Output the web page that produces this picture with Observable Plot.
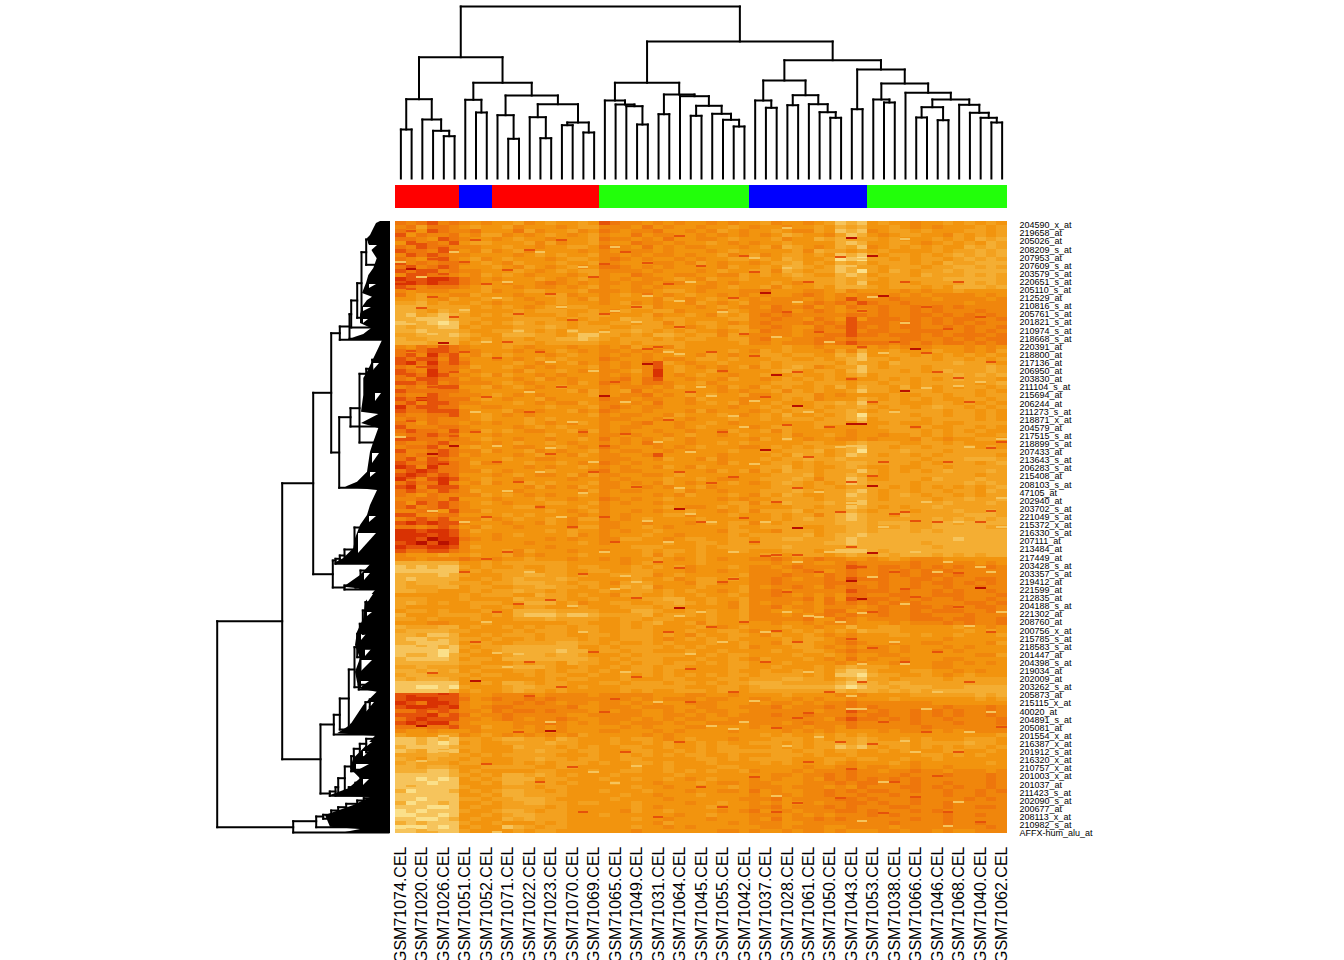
<!DOCTYPE html>
<html>
<head>
<meta charset="utf-8">
<script src="https://cdn.jsdelivr.net/npm/d3@7"></script>
<script src="https://cdn.jsdelivr.net/npm/@observablehq/plot@0.6"></script>
<style>html,body{margin:0;background:#fff}svg{display:block}</style>
</head>
<body>
<div id="chart"></div>
<script>
const sampleLabels = ["GSM71074.CEL","GSM71020.CEL","GSM71026.CEL","GSM71051.CEL","GSM71052.CEL","GSM71071.CEL","GSM71022.CEL","GSM71023.CEL","GSM71070.CEL","GSM71069.CEL","GSM71065.CEL","GSM71049.CEL","GSM71031.CEL","GSM71064.CEL","GSM71045.CEL","GSM71055.CEL","GSM71042.CEL","GSM71037.CEL","GSM71028.CEL","GSM71061.CEL","GSM71050.CEL","GSM71043.CEL","GSM71053.CEL","GSM71038.CEL","GSM71066.CEL","GSM71046.CEL","GSM71068.CEL","GSM71040.CEL","GSM71062.CEL"];
const probeLabels = ["204590_x_at","219658_at","205026_at","208209_s_at","207953_at","207609_s_at","203579_s_at","220651_s_at","205110_s_at","212529_at","210816_s_at","205761_s_at","201821_s_at","210974_s_at","218668_s_at","220391_at","218800_at","217136_at","206950_at","203830_at","211104_s_at","215694_at","206244_at","211273_s_at","218871_x_at","204579_at","217515_s_at","218899_s_at","207433_at","213643_s_at","206283_s_at","215408_at","208103_s_at","47105_at","202940_at","203702_s_at","221049_s_at","215372_x_at","216330_s_at","207111_at","213484_at","217449_at","203428_s_at","203357_s_at","219412_at","221599_at","212835_at","204188_s_at","221302_at","208760_at","200756_x_at","215785_s_at","218583_s_at","201447_at","204398_s_at","219034_at","202009_at","203262_s_at","205873_at","215115_x_at","40020_at","204891_s_at","205081_at","201554_x_at","216387_x_at","201912_s_at","216320_x_at","210757_x_at","201003_x_at","201037_at","211423_s_at","202090_s_at","200677_at","208113_x_at","210982_s_at","AFFX-hum_alu_at"];
const classNames = ["red","blue","red","green","blue","green"];
const classSizes = [6,3,10,14,11,13];
const classColors = {red:"#ff0000",blue:"#0000ff",green:"#22ff0a"};
const levelColors = ["#b81000","#d93203","#e5520a","#ee760c","#f0860c","#f2940e","#f3a11f","#f4ae33","#f6c45c","#fbe08a"];

// expression level per probe band (rows) and sample (columns), 0 = high ... 9 = low
const heatRows = [
"343243 454 5564565565 23445454554545 56455456878 5655455656565",
"436334 565 5645554566 44453545545565 45545565767 5565454555656",
"345234 435 5536455645 34544355454654 55654465878 4566565556656",
"253443 546 6454565456 45535445545454 54576554687 5456655465656",
"334523 455 4565545556 34454535544565 55645576766 6565556565767",
"524342 566 5556464556 45534454556545 45565555787 5566545656576",
"342334 445 5655455665 34453545445554 56476545768 4565656557676",
"233423 546 4564555545 45444545554565 55556476656 5655556566767",
"423234 455 5545656556 44545445455645 64566565878 6566565676767",
"345324 564 5655545665 43454554545566 56576556989 6656566567676",
"243433 456 5465556556 44555445465455 45667565767 5666565766777",
"324323 555 6546545645 33454545555465 56577656876 6566656677676",
"232243 445 5565456566 44445455545655 66476566879 6576566767777",
"422334 546 5654555456 45534554455446 56567655787 5666576667676",
"122112 345 4555654565 45454456546556 55556666767 6566666777776",
"112122 345 5455434545 44544544554545 55654566768 5566566667676",
"234333 456 5545445456 45545455544565 56465565777 6566656577767",
"454445 556 4556655564 44544566545554 43555445645 5554545565555",
"356554 465 5545566455 45653545655454 54554345454 4545454444545",
"556546 556 5654556546 45555465456565 45444545424 4434445444454",
"667565 565 4555456555 45645455465456 44445434342 3443444445444",
"777666 656 5654565665 55566455545654 45344354534 4344343434444",
"776576 755 5565666556 54655664555465 44345434545 4344343444344",
"786787 656 5665556566 65556455654656 43434444433 4344334343434",
"778887 665 5566665656 55766566555566 44344534525 3334343433443",
"877898 656 5676566565 56656646566545 43444343423 3343343434344",
"767788 565 5566676566 65566656456566 44345534323 4343344343443",
"778777 655 6676565766 56676565655456 53445434424 3344333443434",
"667778 765 5777665688 66565776566465 44445443323 3433343433343",
"766777 656 5665667787 65666565665566 43554433434 4443344343433",
"777677 565 5666566666 55656666555556 44544434323 3343434334343",
"453423 455 5654555455 45465546555555 55565545554 5454445554545",
"343223 445 5545456545 44545465555565 46565554647 5565556554546",
"324132 546 5655545655 45454556546545 56656655768 5566565656565",
"232242 455 4545656555 34554544566565 55665565678 6656665665656",
"213132 355 5565455645 45453265455655 56566666576 6576666676665",
"344233 465 5654545556 45454256545456 46567645668 6566656666676",
"234133 545 5546556545 44564156556455 55676566578 6665656766676",
"323124 456 4655454555 45454154565545 56556556567 5666666676767",
"342233 545 5545645455 44353255455465 54565656545 5656565676665",
"223243 444 5654555465 34453345564555 55666566656 6566566666567",
"434322 556 4565456555 45444546555465 46565565757 6657565656656",
"233333 455 5554555646 45635455555454 55646565568 6656665666565",
"344234 445 6545455556 45443545656556 44566645455 5565566566566",
"231233 356 5455645555 34454455465554 45565645557 6565656556656",
"324223 445 5565454465 44545355456564 55655566768 5665556656565",
"132233 554 4555565556 43454455555545 56566565667 6566567665656",
"233222 455 5645455645 34554555464555 45656656676 5656666566565",
"344332 456 5454555556 45445546555654 56575565679 6666566566565",
"434344 456 5556565555 44455465455565 56566656678 5666656666565",
"345344 545 4556545465 45543554556545 55555566657 5565556556666",
"244433 455 5545656555 45445554565555 45665565555 5666565566565",
"323342 446 5654455646 45455455455465 56465555545 5566656565655",
"433233 555 4555565545 44545545655456 55564556545 5455656566556",
"223343 456 5545545565 35454565455555 46565455445 4555465455665",
"344324 445 4565565455 45453455455656 55555665567 6665566565555",
"433243 565 5544556545 34555454565554 45656566678 6656656666565",
"244323 446 4556454556 45445545455565 56566675679 6667666566666",
"343323 545 5545655465 44554255555455 55657665687 6566565666665",
"324234 455 5655445555 44455465546455 56566766766 6666656667776",
"233213 464 4556556545 34545555555465 55665656677 6666565666567",
"124133 455 5554545565 45455465465555 56675655676 5565566566666",
"321233 446 5455565554 35445555554656 46576656668 6565656766676",
"212323 555 4565445646 44554456555555 55666756676 6566666666566",
"134212 456 5545555455 45455565565445 56667646687 5566657666766",
"323314 546 4556565556 44545465455565 45676565687 6666566667676",
"214222 455 5554645465 44554545564555 55666566566 6656565656567",
"323423 465 5545555546 45445556455455 56667656678 6566566566576",
"345344 446 5654545565 45555454655565 46576556687 6567656656566",
"443342 555 4555655455 34545565555454 55666656677 6566665667667",
"352323 456 5455566556 45455455555566 46576667668 6666666766676",
"324323 455 5566455565 45555565445656 55556656687 6565667666666",
"443352 446 5555565456 45545455655456 46667566676 5666566676676",
"224433 555 5656555545 45455566455565 55656646787 6657666667776",
"432324 446 4565565466 45456555565555 55656766787 6666667676767",
"212122 455 5455465455 44554555456566 46566666777 6777667767777",
"334323 546 5545555466 44556545555565 56666556677 6667667777766",
"112112 465 5555565655 45455655555466 55466656677 6777676777777",
"111212 455 4565555645 45556554555565 66666756778 7777777777777",
"112011 345 4555545455 44665545665566 56677666787 7777777787777",
"210201 455 5554555565 45555565566566 56666667787 7777767777777",
"122112 465 5555545555 55566655565666 66676666677 7777776777777",
"233223 455 5646555455 45556566565566 55566656888 7677777777777",
"455565 565 5645455565 55556465565555 56656665676 6767776767677",
"445444 345 4556555455 45455654565455 44345434455 4565444555555",
"777777 556 5666666555 55456555565555 55454455434 4444344444545",
"878788 656 5565566566 55565656455565 44543444423 4334343434434",
"888888 565 6666566556 65566555455455 44454345434 4343434344444",
"777787 655 5667766565 56666456555556 44434453434 4343433434444",
"787777 556 5676667655 55565564566565 44345443423 3344334344334",
"767776 665 6677766566 54666555466455 44344443334 4344343343434",
"766677 566 5566776656 55767455565556 45443453433 4344344344344",
"776655 565 6676656555 65566565655456 44354444423 3343443434434",
"555555 656 6655766565 54665565565565 44345454533 4433443334443",
"666555 655 5576666556 55556677556556 44444353523 3343434434434",
"676565 566 6567775645 56655667656546 45445453434 3434344443343",
"655555 565 5656655565 55666566555546 44354454445 4344334344334",
"566565 556 5577776666 55577655656556 44555453354 4344343334434",
"755566 665 6578887887 66667566656556 44454543434 4344334443444",
"665655 565 5566676666 55665665556556 44444355345 4444333433443",
"555445 556 5555555665 55656755646555 55455454445 5545444343443",
"766677 565 5656566566 55656555565456 55565545575 5665555565545",
"677776 655 5565666566 55666555655665 45556565657 6665555556565",
"776887 556 5666566556 65666565465566 54655654545 5566565565556",
"788777 665 6556566656 55666545656565 55565665445 5555555455555",
"778887 566 5566667766 56556565556556 55466655434 5545544555546",
"887878 656 6777777755 65666656565556 45556654545 4454555454555",
"888898 565 6777778775 66566555655655 55655665434 4454554545555",
"877897 655 5677767765 55656666556566 55556556545 5445555555446",
"788887 566 5777777776 56566655565565 46555654535 4554555445555",
"777777 665 5565665766 55656656656566 55565555454 5545554454545",
"667666 556 6677765565 56566566555566 55655565676 6655554455555",
"776767 565 5566565665 65566565555565 56556565788 6555665545455",
"677666 656 6556566556 55656565656566 56666565889 7665565456555",
"767776 565 5555565665 55655566555665 66677665678 6656666566666",
"888888 556 5776566555 66566656656566 77766666787 7677666666666",
"889989 655 5677666565 55666666555665 67777777898 7767776667777",
"888887 565 5676656555 55656556665665 66666666767 7676767777777",
"212212 455 4444544445 44444555445545 55565555454 5555666666767",
"211122 354 3443434444 44454544454455 44554545545 5565555555656",
"123112 455 4434345445 44545455444555 45445454434 4444445555555",
"211121 454 3344444355 44454445544554 44354443434 3444444344434",
"332323 445 3433434445 45445545454455 44444454423 4344343434434",
"222132 354 4344444554 44445544545454 44344344434 3344343434434",
"321222 445 4345443455 44454545445544 44444445323 3434344344443",
"212113 455 5544434545 44544454554445 44454344434 4444344434443",
"334332 446 5545454555 55454555445555 45444544534 4444434444444",
"455455 545 5555454555 44555454555545 55545454555 5454445454444",
"655566 456 5454545465 55554545555555 56565565656 5555555555556",
"887878 665 6776657655 56566545655545 55666565667 6556565556665",
"887898 565 5666676655 56556565565655 66656566767 6666566667665",
"788887 665 5576665656 55665565565665 55656566878 6566565656656",
"876878 565 5566766566 55566556565666 66665665665 5656555665565",
"666776 656 5666665556 55656565665565 55666565565 5555566565655",
"765766 565 5566766566 55665555566565 66665556656 6556556555555",
"676665 665 5565656665 65566565556555 56565556545 5565455555565",
"776776 556 6666556655 55565565555665 55555455445 4455455455555",
"777887 565 5555665556 55665565656556 45554544434 4544344544454",
"888887 656 5776765655 56555556555555 55445443434 4443444344434",
"889898 565 6777566555 65565565456555 45455453434 3434344444434",
"888988 556 5776665655 56555455565445 44555444343 3444344344434",
"878888 655 5666566555 55565545555565 44454445453 4443343434434",
"798887 565 6776656555 65556555455445 35455443434 3344344344343",
"888888 556 5776666555 55655455565555 45445443443 4434444344344",
"889888 665 6677765555 56555545555554 44354444334 3444344443434",
"798878 556 5667766566 55565555455655 45455454433 4344344344444",
"888998 565 5666656555 55565455556555 44354443434 4433444344334",
"989888 655 6776566555 55465565555454 35445444334 3444343444444",
"998898 556 5677666555 65555554556555 44454545444 3434444344344",
"889987 565 5767666555 55565545554555 45354434344 4444344344444",
"787888 655 6555656555 55555465555545 44455444444 4434444344344",
"999898 565 5876566555 55565545455555 54454445544 4454444444434",
"887788 655 5565665555 55545555555445 45545445455 5445445455444"
];

// single probes that stand out in one sample: [column, position along rows]
const thinDeep = [[34,71],[35,153],[42,16],[37,184],[34,228],[48,127],[26,386],[14,509],[23,142],[42,359],[43,377],[1,47],[4,121],[5,224],[3,232],[19,174],[2,504],[44,34],[45,74],[42,202],[44,264],[47,169],[37,306],[44,331],[54,366],[26,287],[7,459],[43,202]];
const thinRed = [
[1,9],[1,32],[1,67],[2,22],[3,37],[4,26],[3,127],[1,129],[5,214],[5,190],[1,256],[2,177],[1,199],[9,136],[23,127],[19,2],[19,42],[19,224],[26,14],[23,41],[26,346],[8,337],[11,382],[22,376],[27,447],[3,451],[1,472],[4,474],[20,477],[8,542],[3,487],[12,474],
[37,333],[35,333],[34,334],[44,426],[47,367],[31,357],[42,417],[35,409],[37,496],[38,491],[35,506],[44,522],[42,547],[37,581],[41,576],[45,591],[50,554],[52,351],[43,89],[51,107],[42,157],[36,203],[37,266],[32,296],[46,292],[48,299],[55,289],[29,261],[30,149],[31,76],[32,34],[33,134],[52,156],[55,226],[49,131],[44,254],
[0,60],[0,178],[0,152],[2,86],[2,145],[3,75],[3,165],[4,52],[4,240],[5,95],[5,150],[6,40],[6,130],[6,350],[7,18],[7,210],[7,420],[8,62],[8,175],[8,295],[9,240],[9,390],[10,48],[10,120],[10,330],[11,92],[11,260],[11,510],[12,28],[12,190],[12,440],[13,130],[13,285],[13,560],[14,72],[14,232],[14,378],[15,18],[15,165],[15,465],[16,98],[16,305],[16,545],[17,210],[17,352],[17,590],[18,55],[18,250],[18,430],[19,92],[19,295],[19,490],[20,160],[20,320],[21,30],[21,212],[21,530],[22,85],[22,265],[22,455],[24,125],[24,340],[24,595],[25,62],[25,198],[25,410],[26,105],[26,250],[26,520],[27,170],[27,480],[28,44],[28,300],[28,565],[29,130],[29,405],[30,210],[30,360],[30,585],[31,255],[31,470],[32,112],[32,400],[33,50],[33,320],[33,555],[34,175],[34,440],[35,280],[35,590],[36,90],[36,370],[37,150],[37,420],[38,60],[38,235],[38,540],[39,110],[39,350],[40,205],[40,470],[41,35],[41,290],[41,520],[42,100],[42,260],[42,325],[43,125],[43,345],[43,460],[44,180],[44,390],[45,240],[45,500],[46,120],[46,350],[46,560],[47,60],[47,290],[47,440],[48,205],[48,375],[48,575],[49,85],[49,510],[50,150],[50,300],[50,430],[51,240],[51,590],[52,60],[52,385],[52,530],[53,180],[53,460],[54,95],[54,300],[54,600],[55,140],[55,410],[56,220],[56,505]
];
const thinPale = [
[9,76],[4,96],[5,101],[1,102],[3,102],[11,109],[16,109],[3,112],[20,89],[9,224],[14,226],[18,149],[23,74],[26,79],[10,269],[17,271],[23,299],[26,266],[27,292],[26,132],[3,289],
[1,607],[3,608],[1,596],[9,610],[1,589],[2,561],[1,566],[0,467],[4,464],[2,426],[4,418],[1,526],[2,539],[4,514],[4,529],[16,384],[9,431],[11,432],[20,367],[21,354],[22,544],[20,561],[27,432],[26,394],
[42,451],[43,442],[47,442],[47,382],[43,391],[38,394],[39,395],[42,474],[33,479],[47,519],[43,487],[42,487],[36,524],[29,504],[31,507],[49,487],[53,404],[51,604],[43,599],[35,574],
[42,44],[43,37],[42,281],[43,279],[36,6],[43,9],[47,17],[36,46],[33,36],[33,179],[49,166],[52,164],[36,217],[42,224],[56,217],[33,242],[56,276],[47,101],[29,174],[31,194],[45,131],[43,149],
[0,40],[0,215],[2,55],[5,30],[6,88],[6,300],[7,190],[8,120],[8,400],[10,60],[10,445],[12,170],[12,350],[13,30],[13,250],[14,140],[14,500],[15,85],[15,295],[16,200],[17,45],[17,410],[18,240],[18,550],[19,110],[19,330],[20,25],[21,180],[21,450],[22,100],[22,360],[24,220],[24,480],[25,130],[25,320],[27,60],[27,230],[28,165],[28,390],[29,300],[30,90],[30,420],[31,330],[32,205],[32,500],[34,300],[34,410],[35,115],[36,390],[37,80],[37,340],[38,190],[38,450],[39,270],[39,515],[40,120],[40,330],[41,225],[41,400],[44,75],[44,355],[45,305],[45,560],[46,190],[46,420],[48,330],[48,530],[49,280],[50,350],[50,470],[51,340],[52,300],[52,580],[53,225],[53,510],[54,345],[54,160],[55,350],[55,490],[56,390],[56,305]
];

// sample dendrogram: [merge height, left, right]; a bare number is a leaf (column index)
const colTree = [172,
  [121.3,
    [79.3, [49,0,1], [59,2,[47.7,3,[42.3,4,5]]]],
    [95.7,
      [78.7,6,[66,7,8]],
      [83,
        [63.3,9,[39.7,10,11]],
        [74.3,
          [61.3,12,[40.3,13,14]],
          [56,[53.3,15,16],[46,17,18]]]]]],
  [137,
    [95.7,
      [78,19,[74,20,[72.3,21,[54,22,23]]]],
      [84,[64.3,24,25],[82.3,26,[72.7,[62.7,27,28],[64.7,29,[58.7,30,[52,31,32]]]]]]],
    [118.3,
      [98,
        [78,33,[70.7,34,35]],
        [83.3,[73.3,36,37],[74.3,38,[66.3,39,[60.7,40,41]]]]],
      [109,
        [69.3,42,43],
        [95,
          [79,44,[76,45,46]],
          [85.7,47,
            [79,
              [71.3,[61,48,49],[58.3,50,51]],
              [73.7,52,[65.7,53,[60.7,54,[56,55,56]]]]]]]]]]];

// probe dendrogram: [merge height, position along rows, child, child]; a bare number is a leaf position
const rowTree = [173.3,510,
  [108.3,399.7,
    [77.3,261.7,
      [59.3,171.3,
        [50.7,111.7,
          [41,105,
            [39.3,92.7,
              [33.3,79,
                [29,61.7,[24.3,30.7,18,43.3],92.7],
                96.3],
              106],
            117.3],
          118.3],
        [51.3,231,
          [40,195.7,
            [31,186.7,[24.3,152.3,[18.3,147.3,138.3,156.3],157.3],221],
            205],
          266.3]],
      [57.7,352.7,
        [55,339,[50.7,337.3,[46,334,[36,328,306,337],340],340],342.3],
        [46,366,[35,364,[30,360.7,349,367],366],368]]],
    [70,537.7,
      [56.7,503,
        [50.7,493.3,
          [41.7,477,
            [36,448,
              [33.3,425.7,
                [30.7,412.3,[27.7,402.3,[25,389,380.7,395.7],412.3],422.3],
                [30,435.7,427.3,454]],
              [31.7,465.7,463.3,468]],
            [39.3,505.7,[33.3,503.3,[30,498.3,[25,490.7,[20.7,480.7,478,485.7],500.7],505.7],508],508]],
          508],
        513],
      [60.7,572,
        [55,570,
          [52.3,565.7,
            [45.7,556.7,
              [39.3,545,[36.7,534.7,[30.7,527.3,[24.3,522.3,517.3,530.7],535.7],548.3],549.7],
              [41.7,569,[35,565.7,[30,561.3,554,569],569.7],570.7]],
            573.3],
          574],
        574.3]]],
  [97.3,605.7,
    [74.3,599.7,
      [67.3,595,
        [59.3,593.3,
          [52.3,589,[44.3,585.7,[33.3,582.3,[26.7,579,576.7,584],587.3],590.7],592.3],
          597.3],
        597.3],
      605.7],
    611]];

// outline of the dense leaf mass of the probe dendrogram: position, height
const massPos = [0,2,7.3,14,17,22,30,37.3,47,54,62,72,75.7,79,85.7,94,102,107,113,116.7,119,127,140.7,150.7,157,174,190.7,193,202,207,220.7,230.7,250.7,260.7,265.7,269,284,294,304,317.3,327.3,337,342.3,343.3,354,365.7,369,380.7,397.3,410.7,424,437.3,450.7,467.3,470.7,484,504,512.3,514.7,527.3,537.3,547.3,557.3,567.3,574,576,584,594,605.7,608,611,612];
const massHeight = [10,14,16.7,20,23,22,18,13.3,16.7,21.7,24,28,18,23,28,30,30,19,26.7,38,8,11.7,18.3,23,26.7,26.7,29,11.7,29,11.7,16.7,20,23,33,45,13,20,23,30,35,36.7,46.7,56.7,20,30,46.7,15,25,26.7,33,35,30,35,31.7,13.3,26.7,40,53,15,26.7,36.7,40,30,41.7,60,20,36.7,65,60,30,45,40];
// white wedges inside that mass: position start, position end, outer height, inner height
const massGaps = [
  [24,32,22,13],[63,67,21,14],[86,90,27,19],[98,102,27,22],[108,113,36,20],
  [142,149,17,11],[172,180,15,9],[232,242,18,11],[251,256,20,14],[295,301,21,14],
  [312,332,32,14],[352,359,26,20],[373,382,23,17],[391,395,23,18],[413,419,29,24],
  [427,435,25,18],[439,450,29,18],[460,466,29,21],[481,492,25,16],[521,525,23,18],
  [530,536,27,21],[543,550,34,21],[558,564,27,21]
];

const side = 612;                // heat map side in scale units
const nCols = 57;
const colW = side / nCols;
const rowH = side / heatRows.length;
const colBase = -43, rowBase = -5;

const cells = heatRows.flatMap((s, r) =>
  [...s.replace(/ /g, "")].map((c, i) => ({r, i, v: +c})));
const thin = [[thinDeep, 0], [thinRed, 2], [thinPale, 8]].flatMap(([list, v]) =>
  list.map(([i, y]) => ({i, y, v})));

// class strip
let run = 0;
const strips = classNames.map((name, k) => {
  const d = {name, a: run, b: run + classSizes[k]};
  run = d.b;
  return d;
});

// walk the sample tree
const colSegs = [];
function walkCol(n) {
  if (typeof n === "number") return {x: (n + 0.5) * colW, y: colBase};
  const [h, a, b] = n;
  const l = walkCol(a), r = walkCol(b), y = colBase - h;
  colSegs.push({x1: l.x, y1: l.y, x2: l.x, y2: y}, {x1: r.x, y1: r.y, x2: r.x, y2: y}, {x1: l.x, y1: y, x2: r.x, y2: y});
  return {x: (l.x + r.x) / 2, y};
}
walkCol(colTree);

// walk the probe tree
const rowSegs = [];
function walkRow(n) {
  if (typeof n === "number") return {x: rowBase - 2, y: n};
  const [h, pos, ...kids] = n;
  const x = rowBase - h;
  const ks = kids.map(walkRow);
  ks.forEach(k => rowSegs.push({x1: k.x, y1: k.y, x2: x, y2: k.y}));
  rowSegs.push({x1: x, y1: ks[0].y, x2: x, y2: ks[ks.length - 1].y});
  return {x, y: pos};
}
walkRow(rowTree);

const mass = massPos.map((y, i) => ({y, h: massHeight[i]}));
const gaps = massGaps.flatMap((g, id) => [
  {id, y: g[0], a: g[2], b: g[3]},
  {id, y: g[1], a: g[2], b: g[2]}
]);

const font = "'Liberation Sans', Arial, Helvetica, sans-serif";
const chart = Plot.plot({
  width: 1344,
  height: 960,
  margin: 0,
  style: {background: "#fff", fontFamily: font, overflow: "hidden"},
  x: {domain: [0, side], range: [395, 1007], axis: null},
  y: {domain: [0, side], range: [221, 833], axis: null},
  color: {type: "linear", domain: levelColors.map((_, i) => i), range: levelColors, legend: false},
  marks: [
    Plot.rect(cells, {
      x1: d => d.i * colW, x2: d => (d.i + 1) * colW,
      y1: d => d.r * rowH, y2: d => (d.r + 1) * rowH,
      fill: "v", shapeRendering: "crispEdges"
    }),
    Plot.rect(thin, {
      x1: d => d.i * colW, x2: d => (d.i + 1) * colW,
      y1: "y", y2: d => d.y + 2,
      fill: "v", shapeRendering: "crispEdges"
    }),
    ...Object.keys(classColors).map(k => Plot.rect(strips.filter(d => d.name === k), {
      x1: d => d.a * colW, x2: d => d.b * colW, y1: -36, y2: -13,
      fill: classColors[k], shapeRendering: "crispEdges"
    })),
    Plot.area(mass, {x1: d => rowBase - d.h, x2: rowBase, y1: "y", y2: "y", fill: "#000"}),
    Plot.area(gaps, {x1: d => rowBase - d.a, x2: d => rowBase - d.b, y1: "y", y2: "y", z: "id", fill: "#fff"}),
    Plot.link(colSegs, {x1: "x1", y1: "y1", x2: "x2", y2: "y2", stroke: "#000", strokeWidth: 2, strokeLinecap: "square"}),
    Plot.link(rowSegs, {x1: "x1", y1: "y1", x2: "x2", y2: "y2", stroke: "#000", strokeWidth: 2, strokeLinecap: "square"}),
    Plot.text(sampleLabels, {
      x: (d, i) => (2 * i + 0.5) * colW, y: side + 13,
      text: d => d, rotate: -90, textAnchor: "end", fontSize: 16, fill: "#000"
    }),
    Plot.text(probeLabels, {
      x: side + 12, y: (d, i) => 3.8 + i * (608 / 75),
      text: d => d, textAnchor: "start", fontSize: 9, fill: "#000"
    })
  ]
});
document.getElementById("chart").append(chart);
</script>
</body>
</html>
